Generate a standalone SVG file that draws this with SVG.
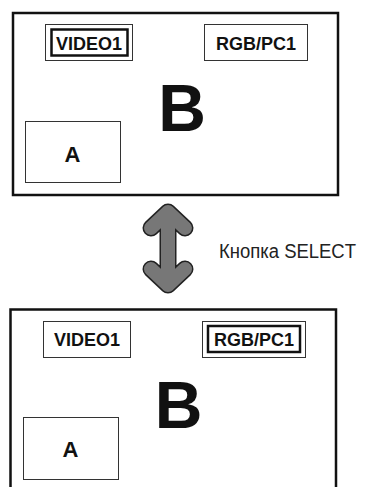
<svg xmlns="http://www.w3.org/2000/svg" width="366" height="487" viewBox="0 0 366 487">
<style>
.frame{fill:none;stroke:#111;stroke-width:2.5}
.box{fill:none;stroke:#333;stroke-width:1}
.sel{fill:none;stroke:#111;stroke-width:2.5}
.lbl{font-family:"Liberation Sans",Arial,sans-serif;font-weight:bold;fill:#111;text-anchor:middle}
.cap{font-family:"Liberation Sans",Arial,sans-serif;font-size:20px;fill:#222}
</style>
<rect width="366" height="487" fill="#fff"/>
<g id="screen1">
<rect class="frame" x="13" y="13" width="325" height="182"/>
<g id="video1-top">
<rect class="box" x="45.5" y="24.5" width="87" height="36"/>
<rect class="sel" x="51.5" y="29.5" width="76" height="26"/>
<text class="lbl" x="89" y="50" font-size="18">VIDEO1</text>
</g>
<g id="rgb-top">
<rect class="box" x="204.5" y="24.5" width="103" height="36"/>
<text class="lbl" x="256" y="50" font-size="18">RGB/PC1</text>
</g>
<text class="lbl" x="182" y="131" font-size="66">B</text>
<g id="a-top">
<rect class="box" x="25.5" y="121.5" width="95" height="61"/>
<text class="lbl" x="72.5" y="162" font-size="22">A</text>
</g>
</g>
<g id="connectors">
<g fill="none" stroke-linecap="round" stroke-linejoin="round">
<path d="M168,212 V285 M151,228 L168,212 L185,228 M151,269 L168,285 L185,269" stroke="#222" stroke-width="17"/>
<path d="M168,212 V285 M151,228 L168,212 L185,228 M151,269 L168,285 L185,269" stroke="#777" stroke-width="14"/>
</g>
<text class="cap" x="219" y="258" textLength="137" lengthAdjust="spacingAndGlyphs">Кнопка SELECT</text>
</g>
<g id="screen2">
<path class="frame" d="M10.5,492 V309.5 H336 V492"/>
<g id="video1-bottom">
<rect class="box" x="43.5" y="321.5" width="87" height="36"/>
<text class="lbl" x="87" y="346" font-size="18">VIDEO1</text>
</g>
<g id="rgb-bottom">
<rect class="box" x="202.5" y="321.5" width="103" height="36"/>
<rect class="sel" x="208" y="326" width="92" height="26"/>
<text class="lbl" x="254" y="346" font-size="18">RGB/PC1</text>
</g>
<text class="lbl" x="178.5" y="428" font-size="66">B</text>
<g id="a-bottom">
<rect class="box" x="23.5" y="417.5" width="95" height="62"/>
<text class="lbl" x="70.5" y="457" font-size="22">A</text>
</g>
</g>
</svg>
